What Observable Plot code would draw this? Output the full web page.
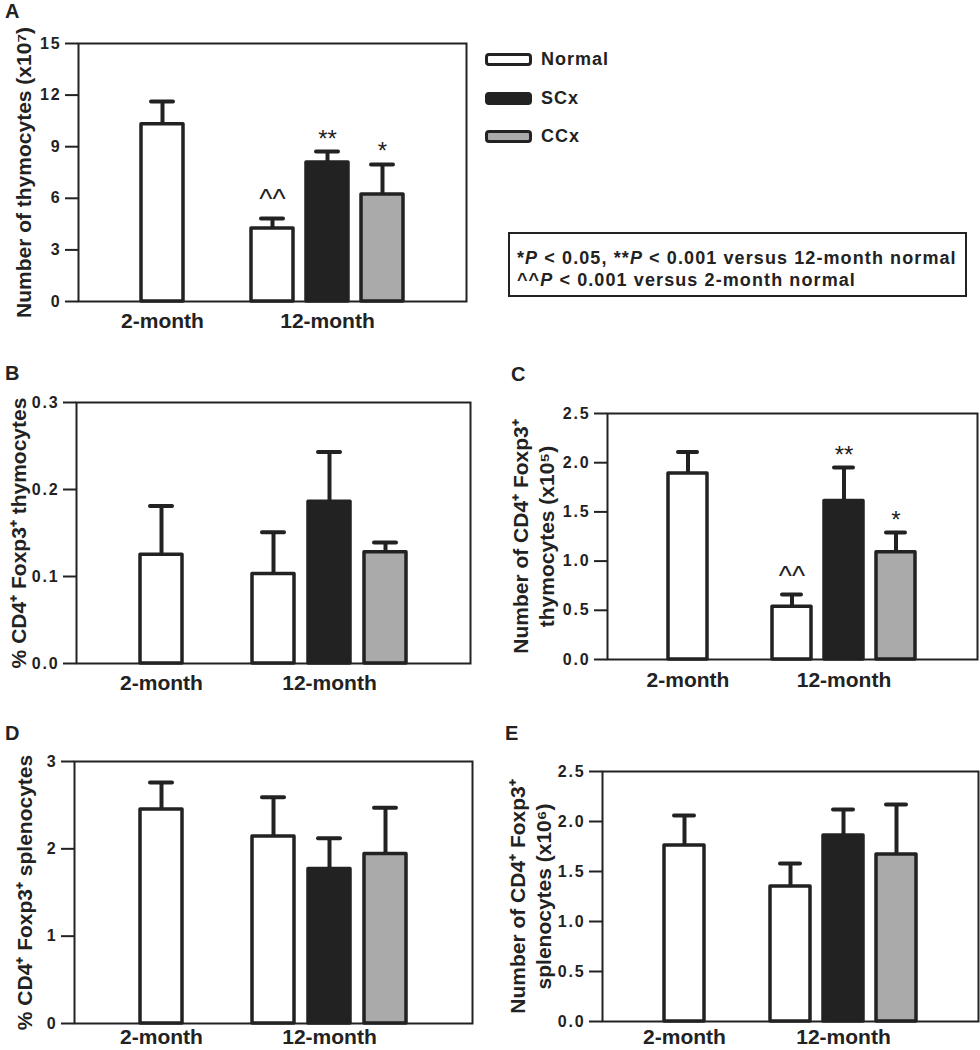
<!DOCTYPE html>
<html><head><meta charset="utf-8">
<script src="https://cdn.jsdelivr.net/npm/d3@7"></script>
<script src="https://cdn.jsdelivr.net/npm/@observablehq/plot@0.6"></script>
<style>
body{margin:0;background:#fff;}
#fig{position:relative;width:980px;height:1050px;font-family:"Liberation Sans",Arial,sans-serif;font-weight:bold;color:#222;overflow:hidden;}
.wrap{position:absolute;}
.wrap svg{display:block;overflow:visible;}
.wrap g[aria-label="y-axis tick label"] text{letter-spacing:1.8px;}
.letter{position:absolute;font-size:20px;line-height:1;font-weight:bold;}
.lgrow{position:absolute;left:485px;height:20px;display:flex;align-items:center;font-size:18px;letter-spacing:1px;}
.sw{display:inline-block;width:41px;height:7px;border:3px solid #222;border-radius:4px;margin-right:9px;}
.note{position:absolute;left:508px;top:232px;width:455px;height:61px;border:2px solid #222;font-size:18px;letter-spacing:1.1px;line-height:22px;padding:0;box-sizing:content-box;}
.note div{padding-left:7px;}
</style></head>
<body><div id="fig"></div>
<script>
// ---------- data ----------
const groups = ["Normal", "SCx", "CCx"];
const groupColors = ["#ffffff", "#222222", "#aaaaaa"];
const ages = ["2-month", "12-month"];
const barAges = ["2-month", "12-month", "12-month", "12-month"];
const barGroups = ["Normal", "Normal", "SCx", "CCx"];

// A: number of thymocytes (x10^7)
const thymocytesMean = [10.3, 4.25, 8.08, 6.22];
const thymocytesSEM  = [1.33, 0.58, 0.64, 1.75];
const thymocytesSig  = ["", "^^", "**", "*"];
const ticksA = [0, 3, 6, 9, 12, 15];

// B: % CD4+ Foxp3+ thymocytes
const pctThymMean = [0.125, 0.103, 0.186, 0.128];
const pctThymSEM  = [0.056, 0.048, 0.057, 0.011];
const ticksB = [0, 0.1, 0.2, 0.3];

// C: number of CD4+ Foxp3+ thymocytes (x10^5)
const numThymMean = [1.89, 0.535, 1.61, 1.09];
const numThymSEM  = [0.22, 0.125, 0.34, 0.20];
const numThymSig  = ["", "^^", "**", "*"];
const ticksC = [0, 0.5, 1.0, 1.5, 2.0, 2.5];

// D: % CD4+ Foxp3+ splenocytes
const pctSplMean = [2.45, 2.14, 1.77, 1.94];
const pctSplSEM  = [0.31, 0.45, 0.35, 0.53];
const ticksD = [0, 1, 2, 3];

// E: number of CD4+ Foxp3+ splenocytes (x10^6)
const numSplMean = [1.76, 1.35, 1.86, 1.67];
const numSplSEM  = [0.30, 0.23, 0.26, 0.50];
const ticksE = [0, 0.5, 1.0, 1.5, 2.0, 2.5];

const noteLines = ["*<i>P</i> &lt; 0.05, **<i>P</i> &lt; 0.001 versus 12-month normal",
                   "^^<i>P</i> &lt; 0.001 versus 2-month normal"];

// ---------- build ----------
const fig = document.getElementById("fig");
const keyOf = (a, g) => `${a} ${g}`;
const keys = barAges.map((a, i) => keyOf(a, barGroups[i]));
// layout: one empty slot between the age groups
const xDomain = [keys[0], "gap", ...keys.slice(1)];
const ageTickKeys = ages.map(a => {
  const k = keys.filter((_, i) => barAges[i] === a);
  return k[Math.floor(k.length / 2)];
});
const ageOfKey = new Map(keys.map((k, i) => [k, barAges[i]]));
const font = '"Liberation Sans", Arial, sans-serif';

function panel(opts) {
  const {mean, sem, sig, ticks, fmt, label, box, m, labelDx, xPad} = opts;
  const data = keys.map((k, i) => ({
    key: k, group: barGroups[i], mean: mean[i], top: mean[i] + sem[i], sig: sig ? sig[i] : ""
  }));
  const svg = Plot.plot({
    width: box.w, height: box.h,
    marginLeft: m[0], marginRight: m[1], marginTop: m[2], marginBottom: m[3],
    style: {fontFamily: font, fontWeight: "bold", color: "#222", background: "transparent", overflow: "visible"},
    x: {type: "band", domain: xDomain, paddingInner: 0.243, paddingOuter: 1.12, axis: null},
    y: {domain: [ticks[0], ticks[ticks.length - 1]], axis: null},
    color: {domain: groups, range: groupColors},
    marks: [
      Plot.ruleX(data, {x: "key", y1: "mean", y2: "top", stroke: "#222", strokeWidth: 4}),
      Plot.tickY(data, {x: "key", y: "top", stroke: "#222", strokeWidth: 4, strokeLinecap: "round", insetLeft: 10, insetRight: 10}),
      Plot.barY(data, {x: "key", y: "mean", fill: "group", stroke: "#222", strokeWidth: 3.5, strokeLinejoin: "round"}),
      Plot.text(data.filter(d => d.sig.startsWith("*")), {x: "key", y: "top", text: "sig", fontSize: 24, fontWeight: "normal", lineAnchor: "bottom", dy: -5, fill: "#222"}),
      Plot.text(data.filter(d => d.sig.startsWith("^")), {x: "key", y: "top", text: "sig", fontSize: 28, fontWeight: "normal", lineAnchor: "bottom", dy: -10, fill: "#222"}),
      Plot.frame({stroke: "#222", strokeWidth: 2}),
      Plot.axisY({ticks, tickFormat: fmt, tickSize: 13, tickPadding: 4, fontSize: 16, strokeWidth: 2, label: null}),
      Plot.axisX({ticks: ageTickKeys, tickFormat: k => ageOfKey.get(k), tickSize: 0, tickPadding: xPad, fontSize: 21, label: null}),
      Plot.text([label], {frameAnchor: "left", dx: labelDx, rotate: -90, textAnchor: "middle", lineAnchor: "middle", fontSize: 21, lineHeight: 1.22, fill: "#222"})
    ]
  });
  const w = document.createElement("div");
  w.className = "wrap";
  w.style.left = box.x + "px"; w.style.top = box.y + "px";
  w.style.width = box.w + "px"; w.style.height = box.h + "px";
  w.appendChild(svg);
  fig.appendChild(w);
}

panel({mean: thymocytesMean, sem: thymocytesSEM, sig: thymocytesSig, ticks: ticksA, fmt: d3.format("d"),
  label: "Number of thymocytes (x10\u2077)", box: {x: 0, y: 0, w: 480, h: 340}, m: [78, 14, 43, 39], labelDx: -56, xPad: 12});
panel({mean: pctThymMean, sem: pctThymSEM, ticks: ticksB, fmt: d3.format(".1f"),
  label: "% CD4\u207A Foxp3\u207A thymocytes", box: {x: 0, y: 350, w: 480, h: 350}, m: [76, 10, 52, 37], labelDx: -59, xPad: 12});
panel({mean: numThymMean, sem: numThymSEM, sig: numThymSig, ticks: ticksC, fmt: d3.format(".1f"),
  label: "Number of CD4\u207A Foxp3\u207A\nthymocytes (x10\u2075)", box: {x: 490, y: 350, w: 490, h: 350}, m: [117, 3, 63, 41], labelDx: -75, xPad: 13});
panel({mean: pctSplMean, sem: pctSplSEM, ticks: ticksD, fmt: d3.format("d"),
  label: "% CD4\u207A Foxp3\u207A splenocytes", box: {x: 0, y: 700, w: 480, h: 350}, m: [74, 8, 61, 27], labelDx: -51, xPad: 6});
panel({mean: numSplMean, sem: numSplSEM, ticks: ticksE, fmt: d3.format(".1f"),
  label: "Number of CD4\u207A Foxp3\u207A\nsplenocytes (x10\u2076)", box: {x: 490, y: 700, w: 490, h: 350}, m: [112, 2, 71, 29], labelDx: -73, xPad: 8});

// panel letters
[["A", 5, 1], ["B", 5, 363], ["C", 511, 364], ["D", 5, 723], ["E", 505, 723]].forEach(([t, x, y]) => {
  const d = document.createElement("div");
  d.className = "letter"; d.textContent = t;
  d.style.left = x + "px"; d.style.top = y + "px";
  fig.appendChild(d);
});

// legend
const legendY = [49, 88, 126];
groups.forEach((g, i) => {
  const r = document.createElement("div");
  r.className = "lgrow"; r.style.top = legendY[i] + "px";
  const s = document.createElement("span");
  s.className = "sw"; s.style.background = groupColors[i];
  r.appendChild(s);
  r.appendChild(document.createTextNode(g));
  fig.appendChild(r);
});

// significance note
const note = document.createElement("div");
note.className = "note";
note.innerHTML = `<div style="margin-top:13px">${noteLines[0]}</div><div>${noteLines[1]}</div>`;
fig.appendChild(note);
</script>
</body></html>
